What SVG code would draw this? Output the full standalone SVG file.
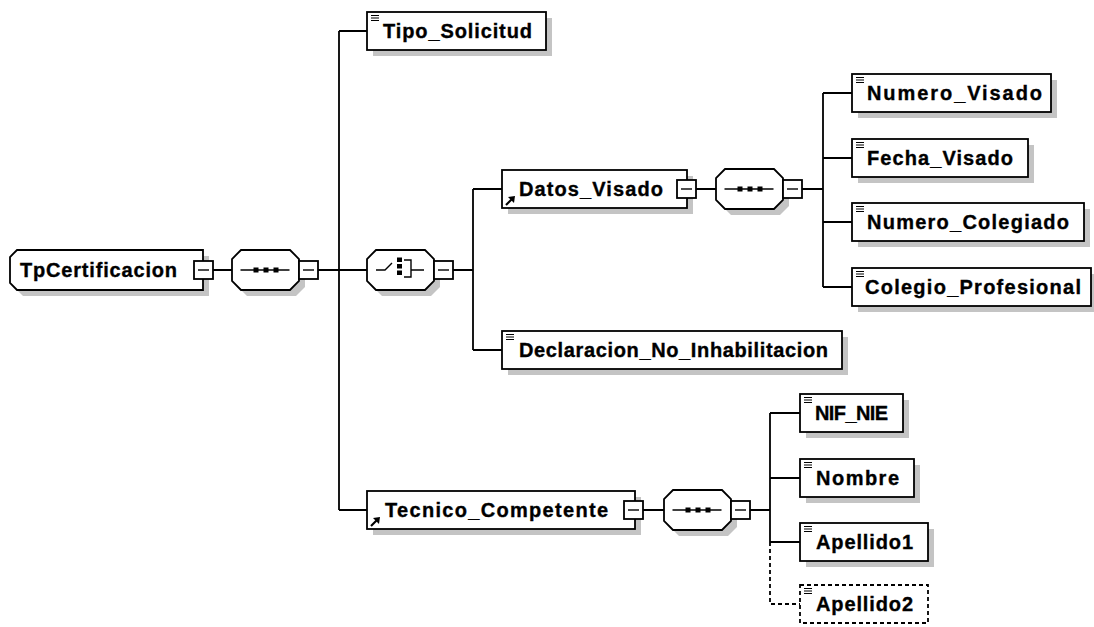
<svg xmlns="http://www.w3.org/2000/svg" xmlns:xlink="http://www.w3.org/1999/xlink" width="1094" height="627" viewBox="0 0 1094 627">
<style>
.bg{fill:#fff}
.box{fill:#fff;stroke:#000;stroke-width:1.8}
.dbox{fill:#fff;stroke:#000;stroke-width:1.8;stroke-dasharray:4 3}
.sh{fill:#c4c4c4;stroke:none}
.ln{stroke:#000;stroke-width:1.8;fill:none}
.dl{stroke:#000;stroke-width:1.8;fill:none;stroke-dasharray:4 3}
.ic{stroke:#000;stroke-width:1.2;fill:none}
.lbl{font-family:"Liberation Sans",Arial,sans-serif;font-weight:bold;font-size:20px;fill:#000;stroke:#000;stroke-width:0.35}
</style>
<defs>
<path id="oct" d="M9 0 H58 L67 9 V31 L58 40 H9 L0 31 V9 Z"/>
<g id="minus"><rect x="0" y="0" width="19" height="18" class="box"/><path d="M4 9 H15" class="ln" style="stroke-width:1.4"/></g>
<path id="elic" d="M4 3.5 H12 M4 6 H12 M4 8.5 H12" class="ic"/>
<g id="refar"><path d="M0 0 L6 -6" class="ln" style="stroke-width:2.2"/><polygon points="9,-9 2,-8 8,-2" fill="#000"/></g>
<g id="seqic"><path d="M-25 0 H24" class="ln" style="stroke-width:1.4"/><rect x="-12" y="-2.5" width="5" height="5" fill="#000"/><rect x="-2" y="-2.5" width="5" height="5" fill="#000"/><rect x="8" y="-2.5" width="5" height="5" fill="#000"/></g>
</defs>
<rect class="bg" x="0" y="0" width="1094" height="627"/>

<g id="connectors">
<path class="ln" d="M213 270 H232 M318 270 H367 M339 31 V510 M339 31 H367 M339 510 H367"/>
<path class="ln" d="M453 270 H473 M473 189 V350 M473 189 H502 M473 350 H502"/>
<path class="ln" d="M696 189 H716 M802 189 H823 M823 93 V287 M823 93 H852 M823 158 H852 M823 222 H852 M823 287 H852"/>
<path class="ln" d="M643 510 H664 M750 510 H770 M770 413 V542 M770 413 H800 M770 478 H800 M770 542 H800"/>
<path class="dl" d="M770 542 V604 H800"/>
</g>

<g id="n-TpCertificacion">
<path class="sh" d="M23 256 H209 V296 H23 L16 289 V263 Z"/>
<path class="box" d="M17 250 H203 V290 H17 L10 283 V257 Z"/>
<text class="lbl" x="20" y="277" textLength="157" lengthAdjust="spacing">TpCertificacion</text>
<use xlink:href="#minus" x="194" y="261"/>
</g>

<g id="n-seq1">
<use xlink:href="#oct" x="238" y="256" class="sh"/>
<use xlink:href="#oct" x="232" y="250" class="box"/>
<use xlink:href="#seqic" x="265.5" y="270"/>
<use xlink:href="#minus" x="299" y="261"/>
</g>

<g id="n-choice">
<use xlink:href="#oct" x="373" y="256" class="sh"/>
<use xlink:href="#oct" x="367" y="250" class="box"/>
<path class="ln" style="stroke-width:1.4" d="M376 270 H385 L392 263 M404 260 H411 V277 H404 M411 270 H424"/>
<rect x="397" y="257.5" width="5" height="4.5" fill="#000"/>
<rect x="397" y="264" width="5" height="4.5" fill="#000"/>
<rect x="397" y="270.5" width="5" height="4.5" fill="#000"/>
<use xlink:href="#minus" x="434" y="261"/>
</g>

<g id="n-Tipo_Solicitud">
<rect class="sh" x="373" y="18" width="179" height="38"/>
<rect class="box" x="367" y="12" width="179" height="38"/>
<use xlink:href="#elic" x="367" y="12"/>
<text class="lbl" x="383" y="38" textLength="149" lengthAdjust="spacing">Tipo_Solicitud</text>
</g>

<g id="n-Datos_Visado">
<rect class="sh" x="508" y="176" width="185" height="38"/>
<rect class="box" x="502" y="170" width="185" height="38"/>
<use xlink:href="#refar" x="506" y="205"/>
<text class="lbl" x="519" y="196" textLength="144" lengthAdjust="spacing">Datos_Visado</text>
<use xlink:href="#minus" x="677" y="180"/>
</g>

<g id="n-seq2">
<use xlink:href="#oct" x="722" y="175" class="sh"/>
<use xlink:href="#oct" x="716" y="169" class="box"/>
<use xlink:href="#seqic" x="749.5" y="189"/>
<use xlink:href="#minus" x="783" y="180"/>
</g>

<g id="n-Declaracion_No_Inhabilitacion">
<rect class="sh" x="508" y="337" width="340" height="38"/>
<rect class="box" x="502" y="331" width="340" height="38"/>
<use xlink:href="#elic" x="502" y="331"/>
<text class="lbl" x="519" y="357" textLength="309" lengthAdjust="spacing">Declaracion_No_Inhabilitacion</text>
</g>

<g id="n-Numero_Visado">
<rect class="sh" x="858" y="80" width="199" height="38"/>
<rect class="box" x="852" y="74" width="199" height="38"/>
<use xlink:href="#elic" x="852" y="74"/>
<text class="lbl" x="867" y="100" textLength="175" lengthAdjust="spacing">Numero_Visado</text>
</g>

<g id="n-Fecha_Visado">
<rect class="sh" x="858" y="145" width="176" height="38"/>
<rect class="box" x="852" y="139" width="176" height="38"/>
<use xlink:href="#elic" x="852" y="139"/>
<text class="lbl" x="867" y="165" textLength="146" lengthAdjust="spacing">Fecha_Visado</text>
</g>

<g id="n-Numero_Colegiado">
<rect class="sh" x="858" y="209" width="232" height="38"/>
<rect class="box" x="852" y="203" width="232" height="38"/>
<use xlink:href="#elic" x="852" y="203"/>
<text class="lbl" x="867" y="229" textLength="202" lengthAdjust="spacing">Numero_Colegiado</text>
</g>

<g id="n-Colegio_Profesional">
<rect class="sh" x="858" y="274" width="239" height="38"/>
<rect class="box" x="852" y="268" width="239" height="38"/>
<use xlink:href="#elic" x="852" y="268"/>
<text class="lbl" x="865" y="294" textLength="216" lengthAdjust="spacing">Colegio_Profesional</text>
</g>

<g id="n-Tecnico_Competente">
<rect class="sh" x="373" y="497" width="268" height="38"/>
<rect class="box" x="367" y="491" width="268" height="38"/>
<use xlink:href="#refar" x="371" y="526"/>
<text class="lbl" x="385" y="517" textLength="223" lengthAdjust="spacing">Tecnico_Competente</text>
<use xlink:href="#minus" x="624" y="501"/>
</g>

<g id="n-seq3">
<use xlink:href="#oct" x="670" y="496" class="sh"/>
<use xlink:href="#oct" x="664" y="490" class="box"/>
<use xlink:href="#seqic" x="697.5" y="510"/>
<use xlink:href="#minus" x="731" y="501"/>
</g>

<g id="n-NIF_NIE">
<rect class="sh" x="806" y="400" width="103" height="38"/>
<rect class="box" x="800" y="394" width="103" height="38"/>
<use xlink:href="#elic" x="800" y="394"/>
<text class="lbl" x="815" y="420" textLength="73" lengthAdjust="spacing">NIF_NIE</text>
</g>

<g id="n-Nombre">
<rect class="sh" x="806" y="465" width="114" height="38"/>
<rect class="box" x="800" y="459" width="114" height="38"/>
<use xlink:href="#elic" x="800" y="459"/>
<text class="lbl" x="816" y="485" textLength="83" lengthAdjust="spacing">Nombre</text>
</g>

<g id="n-Apellido1">
<rect class="sh" x="806" y="529" width="128" height="38"/>
<rect class="box" x="800" y="523" width="128" height="38"/>
<use xlink:href="#elic" x="800" y="523"/>
<text class="lbl" x="816" y="549" textLength="97" lengthAdjust="spacing">Apellido1</text>
</g>

<g id="n-Apellido2">
<rect class="dbox" x="800" y="585" width="128" height="38"/>
<use xlink:href="#elic" x="800" y="585"/>
<text class="lbl" x="816" y="611" textLength="97" lengthAdjust="spacing">Apellido2</text>
</g>
</svg>
